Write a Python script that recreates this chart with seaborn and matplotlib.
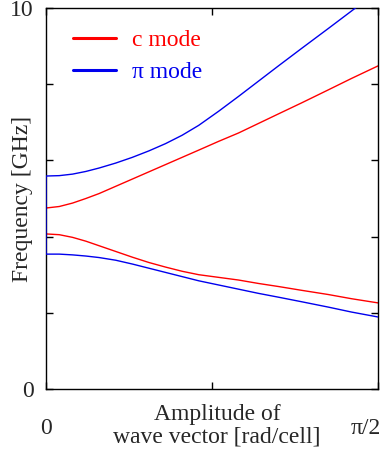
import numpy as np
import pandas as pd
import matplotlib
matplotlib.use("Agg")
import matplotlib.pyplot as plt
import matplotlib.transforms as mtransforms
import seaborn as sns

# wave vector as fraction of pi/2
k_frac = [0.0, 0.04, 0.08, 0.12, 0.16, 0.21, 0.26, 0.31, 0.36, 0.41,
          0.46, 0.52, 0.58, 0.64, 0.70, 0.77, 0.85, 0.92, 1.0]
c_upper = [4.75, 4.79, 4.88, 5.00, 5.13, 5.32, 5.51, 5.70, 5.89, 6.08,
           6.27, 6.50, 6.72, 6.97, 7.22, 7.51, 7.85, 8.15, 8.48]
c_lower = [4.07, 4.05, 3.98, 3.88, 3.76, 3.61, 3.46, 3.32, 3.20, 3.09,
           3.00, 2.93, 2.86, 2.77, 2.69, 2.59, 2.48, 2.37, 2.26]
pi_upper = [5.59, 5.60, 5.64, 5.71, 5.80, 5.93, 6.08, 6.25, 6.44, 6.66,
            6.92, 7.29, 7.68, 8.08, 8.48, 8.94, 9.46, 9.92, 10.45]
pi_lower = [3.54, 3.54, 3.52, 3.49, 3.45, 3.38, 3.28, 3.17, 3.06, 2.95,
            2.84, 2.73, 2.62, 2.51, 2.41, 2.29, 2.15, 2.02, 1.89]
series_labels = ["c mode", "\u03c0 mode"]
xtick_labels = ["0", "\u03c0/2"]
ytick_labels = ["0", "", "", "", "", "10"]

sns.set_style("white")
plt.rcParams["font.family"] = ["Liberation Serif", "DejaVu Serif"]

k = np.array(k_frac) * np.pi / 2


def branch_path(lower, upper):
    x = np.concatenate([k[::-1], k])
    y = np.concatenate([np.array(lower)[::-1], np.array(upper)])
    return pd.DataFrame({"k": x, "f": y})


FS = 17
fig = plt.figure(figsize=(3.85, 4.54), dpi=100)
ax = fig.add_axes([46 / 385, 1 - 389 / 454, 332 / 385, 381 / 454])

sns.lineplot(data=branch_path(c_lower, c_upper), x="k", y="f", sort=False,
             estimator=None, color="#ff0000", lw=1.0, ax=ax, label=series_labels[0],
             zorder=2)
sns.lineplot(data=branch_path(pi_lower, pi_upper), x="k", y="f", sort=False,
             estimator=None, color="#0000ee", lw=1.0, ax=ax, label=series_labels[1],
             zorder=3)

ax.set_xlim(0, np.pi / 2)
ax.set_ylim(0, 10)
ax.set_yticks([0, 2, 4, 6, 8, 10])
ax.set_yticklabels(ytick_labels)
ax.set_xticks([0, np.pi / 4, np.pi / 2])
ax.set_xticklabels([xtick_labels[0], "", xtick_labels[1]])

ax.tick_params(axis="both", direction="in", length=5, width=1.0, color="black",
               labelsize=FS, top=True, right=True, bottom=True, left=True)
ax.tick_params(axis="y", pad=9)
ax.tick_params(axis="x", pad=21)

for sp in ax.spines.values():
    sp.set_color("black")
    sp.set_linewidth(1.0)

# shift pi/2 label slightly left
offset = mtransforms.ScaledTranslation(-12 / 100, 0, fig.dpi_scale_trans)
lbl = ax.get_xticklabels()[2]
lbl.set_transform(lbl.get_transform() + offset)

ax.set_xlabel("Amplitude of\nwave vector [rad/cell]", fontsize=FS, linespacing=1.05)
ax.xaxis.set_label_coords(0.515, -0.04)
ax.set_ylabel("Frequency [GHz]", fontsize=FS)
ax.yaxis.set_label_coords(-0.04, 0.5)

leg = ax.legend(loc="upper left", bbox_to_anchor=(0.054, 0.968), frameon=False,
                fontsize=FS, handlelength=1.8, handletextpad=0.68, labelspacing=0.45,
                borderaxespad=0, labelcolor="linecolor")
for h in leg.legend_handles:
    h.set_linewidth(2.2)

fig.savefig("out.png", dpi=100)
